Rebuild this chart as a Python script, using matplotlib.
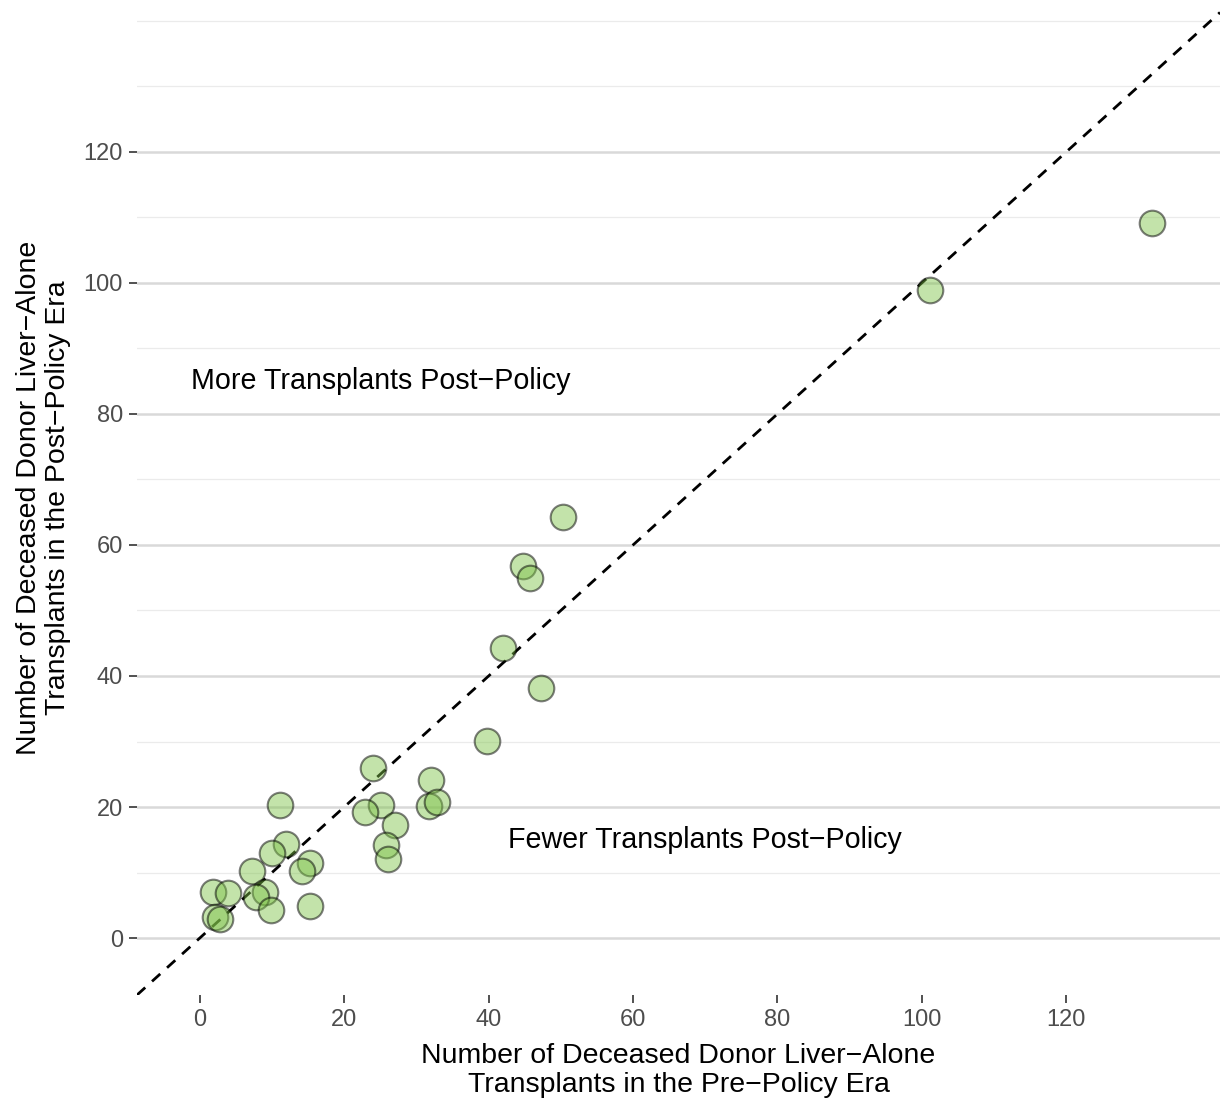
import matplotlib
matplotlib.use("Agg")
import matplotlib.pyplot as plt

plt.rcParams['font.family'] = ['Liberation Sans', 'DejaVu Sans']

# pre-policy vs post-policy transplant counts per center
pre_policy = [131.9, 101.1, 50.3, 44.7, 45.7, 42.0, 47.2, 39.8, 24.0, 32.0,
              11.1, 25.1, 22.9, 31.8, 32.8, 27.0, 25.8, 26.0, 12.0, 10.0,
              15.2, 14.1, 7.2, 9.0, 7.8, 9.8, 15.2, 1.8, 3.9, 2.1, 2.8]
post_policy = [109.2, 98.9, 64.3, 56.8, 55.0, 44.3, 38.2, 30.1, 26.0, 24.1,
               20.3, 20.3, 19.2, 20.2, 20.8, 17.3, 14.2, 12.1, 14.4, 13.0,
               11.4, 10.2, 10.2, 7.0, 6.2, 4.3, 4.9, 7.0, 6.8, 3.2, 2.9]

yticks = [0, 20, 40, 60, 80, 100, 120]
xticks = [0, 20, 40, 60, 80, 100, 120]
minor_y = [10, 30, 50, 70, 90, 110, 130, 140]

fig = plt.figure(figsize=(12.2, 11.03), dpi=100)
ax = fig.add_axes([137 / 1220, 1 - 995 / 1103, 1 - 137 / 1220, 995 / 1103])

ax.set_xlim(-8.7, 141.3)
ax.set_ylim(-8.7, 143.2)

# grid like ggplot theme_minimal, horizontal only
for v in minor_y:
    ax.axhline(v, color='#ebebeb', lw=0.9, zorder=0)
for v in yticks:
    ax.axhline(v, color='#d9d9d9', lw=1.8, zorder=0)

ax.axline((0, 0), slope=1, color='black', lw=2.0, linestyle=(0, (4, 3.3)), zorder=1)

ax.scatter(pre_policy, post_policy, s=340,
           facecolor=(0.49, 0.76, 0.28, 0.46), edgecolor=(0, 0, 0, 0.5),
           linewidth=1.5, zorder=2)

ax.text(25, 85, 'More Transplants Post\u2212Policy', fontsize=20.6,
        ha='center', va='center')
ax.text(70, 15, 'Fewer Transplants Post\u2212Policy', fontsize=20.6,
        ha='center', va='center')

ax.set_xticks(xticks)
ax.set_yticks(yticks)
ax.tick_params(axis='both', colors='#333333', labelcolor='#4d4d4d',
               labelsize=17, length=6, width=1.2, pad=4)
for s in ax.spines.values():
    s.set_visible(False)

ax.set_xlabel('Number of Deceased Donor Liver\u2212Alone\nTransplants in the Pre\u2212Policy Era',
              fontsize=20.5, labelpad=9, linespacing=1.15)
ax.set_ylabel('Number of Deceased Donor Liver\u2212Alone\nTransplants in the Post\u2212Policy Era',
              fontsize=20.5, labelpad=9, linespacing=1.15)

fig.savefig('out.png', dpi=100)
